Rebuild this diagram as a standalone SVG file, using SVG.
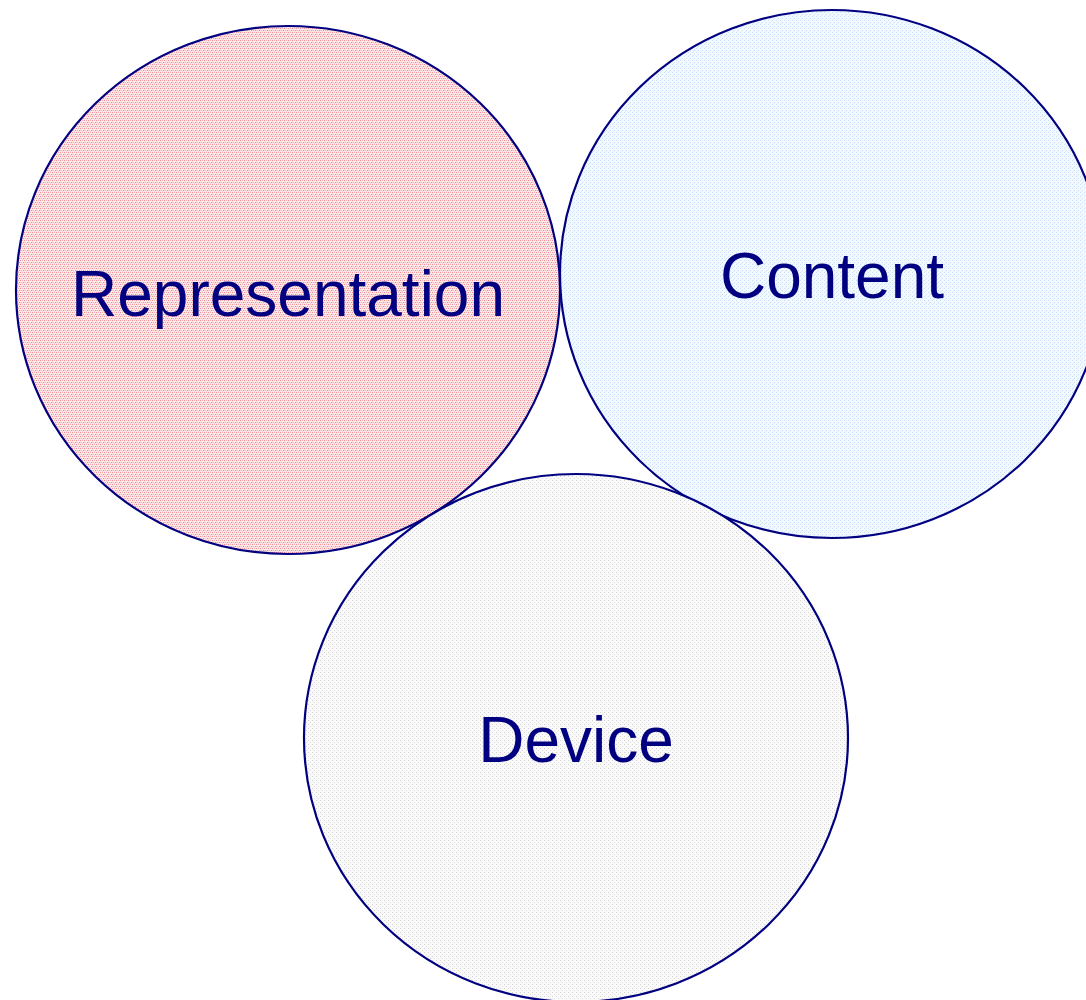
<svg xmlns="http://www.w3.org/2000/svg" width="1086" height="1000" viewBox="0 0 1086 1000">
  <defs>
    <!-- dithered fills -->
    <pattern id="dotRed" width="4" height="4" patternUnits="userSpaceOnUse">
      <rect width="4" height="4" fill="#fdeaeb"/>
      <rect x="0" y="0" width="1" height="1" fill="#f28890"/>
      <rect x="2" y="0" width="1" height="1" fill="#f6b0b5"/>
      <rect x="1" y="2" width="1" height="1" fill="#f6b0b5"/>
      <rect x="3" y="2" width="1" height="1" fill="#f28890"/>
      <rect x="0" y="2" width="1" height="1" fill="#fad0d3"/>
      <rect x="2" y="3" width="1" height="1" fill="#fad0d3"/>
    </pattern>
    <pattern id="dotBlue" width="4" height="4" patternUnits="userSpaceOnUse">
      <rect width="4" height="4" fill="#f4f9ff"/>
      <rect x="0" y="0" width="1" height="1" fill="#c6e0fb"/>
      <rect x="2" y="2" width="1" height="1" fill="#c6e0fb"/>
      <rect x="1" y="3" width="1" height="1" fill="#dcecfd"/>
    </pattern>
    <pattern id="dotGray" width="4" height="4" patternUnits="userSpaceOnUse">
      <rect width="4" height="4" fill="#fafafa"/>
      <rect x="0" y="0" width="1" height="1" fill="#d2d2d2"/>
      <rect x="2" y="2" width="1" height="1" fill="#dcdcdc"/>
    </pattern>
  </defs>
  <style>
    .ring { stroke: #000080; stroke-width: 2.2; }
    .label { font-family: "Liberation Sans", Arial, sans-serif; font-size: 64px; fill: #000080; text-anchor: middle; }
  </style>
  <rect width="1086" height="1000" fill="#ffffff"/>
  <g id="representation">
    <ellipse class="ring" cx="288" cy="290" rx="272" ry="264" fill="url(#dotRed)"/>
    <text class="label" x="288" y="316">Representation</text>
  </g>
  <g id="content">
    <ellipse class="ring" cx="832" cy="274" rx="272" ry="264" fill="url(#dotBlue)"/>
    <text class="label" x="832" y="298">Content</text>
  </g>
  <g id="device">
    <ellipse class="ring" cx="576" cy="738" rx="272" ry="264" fill="url(#dotGray)"/>
    <text class="label" x="576" y="762">Device</text>
  </g>
  <g id="connectors"/>
</svg>
